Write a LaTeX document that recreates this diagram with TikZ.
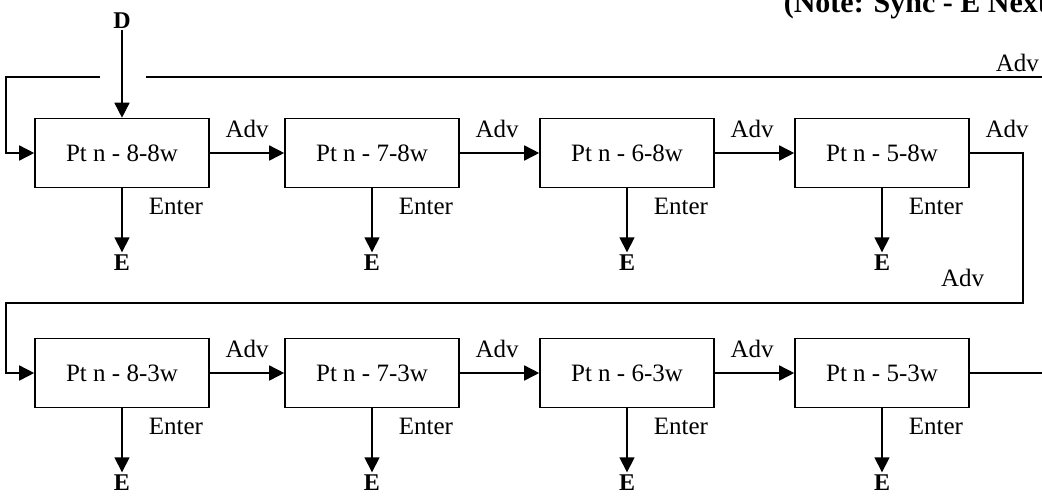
\documentclass[tikz,border=0pt]{standalone}
\usepackage{fontspec}
\setmainfont{Liberation Serif}
\usetikzlibrary{arrows.meta,positioning}
\tikzset{
  ptbox/.style={draw, minimum width=174pt, minimum height=69pt, inner sep=0pt,
    font=\fontsize{25}{28}\selectfont},
  lbl/.style={font=\fontsize{25}{28}\selectfont, inner sep=0pt},
  blbl/.style={font=\fontsize{24}{28}\selectfont\bfseries, inner sep=0pt},
}
\begin{document}
\begin{tikzpicture}[x=1pt,y=-1pt,line width=1.6pt,>={Triangle[length=15pt,width=15pt]}]
  \useasboundingbox (0,0) rectangle (1042,496);
  % first row
  \node[ptbox] (p88) at (122,153) {Pt n - 8-8w};
  \node[ptbox] (p78) at (372,153) {Pt n - 7-8w};
  \node[ptbox] (p68) at (627,153) {Pt n - 6-8w};
  \node[ptbox] (p58) at (882,153) {Pt n - 5-8w};
  % second row
  \node[ptbox] (p83) at (122,373) {Pt n - 8-3w};
  \node[ptbox] (p73) at (372,373) {Pt n - 7-3w};
  \node[ptbox] (p63) at (627,373) {Pt n - 6-3w};
  \node[ptbox] (p53) at (882,373) {Pt n - 5-3w};
  % exits
  \foreach \b in {p88,p78,p68,p58,p83,p73,p63,p53}{
    \node[blbl, below=66pt of \b.south, anchor=north] (e\b) {E};
    \draw[->, shorten >=2pt] (\b.south) -- (e\b.north);
    \node[lbl, below right=9pt and 26pt of \b.south] {Enter};
  }
  % advance
  \foreach \a/\b in {p88/p78,p78/p68,p68/p58,p83/p73,p73/p63,p63/p53}{
    \draw[->] (\a.east) -- (\b.west);
    \node[lbl, above right=14pt and 15pt of \a.east] {Adv};
  }
  \node[lbl, above right=14pt and 15pt of p58.east] {Adv};
  % data in
  \node[blbl] (d) at (122,21) {D};
  \draw[->] (d.south) -- (p88.north);
  % loop back
  \coordinate (tr) at (1042,77);
  \coordinate (gr) at (146,77);
  \coordinate (gl) at (100,77);
  \coordinate (tl) at (6,77);
  \draw (tr) -- (gr);
  \draw[->] (gl) -- (tl) |- (p88.west);
  \node[lbl, anchor=south west] (advtop) at (995,73) {Adv};
  \coordinate (rc) at (1023,303);
  \coordinate (lc) at (6,303);
  \draw[->] (p58.east) -| (rc) -- (lc) |- (p83.west);
  \node[lbl, above left=15pt and 38pt of rc] {Adv};
  \coordinate (out) at (1042,373);
  \draw (p53.east) -- (out);
  % note
  \node[blbl, font=\fontsize{30}{32}\selectfont\bfseries, anchor=base west] (note) at (783,12) {(Note: Sync - E Next)};
\end{tikzpicture}
\end{document}
